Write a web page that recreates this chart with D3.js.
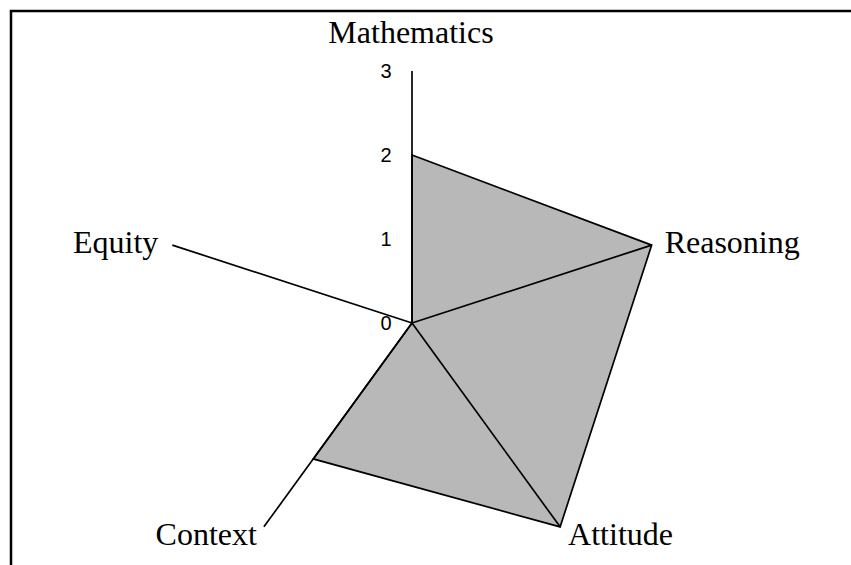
<!DOCTYPE html>
<html>
<head>
<meta charset="utf-8">
<script src="https://cdn.jsdelivr.net/npm/d3@7"></script>
<style>
    html, body { margin: 0; padding: 0; background: #fff; }
    #plot { display: block; }
</style>
</head>
<body>
<svg id="plot" width="851" height="565"></svg>
<script>
'use strict';

const axes = ['Mathematics', 'Reasoning', 'Attitude', 'Context', 'Equity'];
const scores = [2, 3, 3, 2, 0];
const ticks = [0, 1, 2, 3];

const width = 851;
const height = 565;
const cx = 412;
const cy = 323;
const maxRadius = 252;

const svg = d3.select('#plot');

const rScale = d3.scaleLinear()
    .domain([0, 3])
    .range([0, maxRadius]);

const angleScale = d3.scaleLinear()
    .domain([0, axes.length])
    .range([0, 2 * Math.PI]);

function point(index, value) {
    const a = angleScale(index);
    return [cx + rScale(value) * Math.sin(a), cy - rScale(value) * Math.cos(a)];
}

// frame, only top and left edges are visible in the picture
svg.append('path')
    .attr('d', `M11,${height} V11 H${width}`)
    .attr('fill', 'none')
    .attr('stroke', '#000')
    .attr('stroke-width', 2.5);

const chart = svg.append('g');

chart.append('path')
    .datum(scores)
    .attr('d', d3.line()(scores.map((v, i) => point(i, v))) + 'Z')
    .attr('fill', '#b8b8b8')
    .attr('stroke', '#000')
    .attr('stroke-width', 1.7);

chart.selectAll('.spoke')
    .data(axes)
    .enter()
    .append('line')
    .attr('class', 'spoke')
    .attr('x1', cx)
    .attr('y1', cy)
    .attr('x2', (_, i) => point(i, 3)[0])
    .attr('y2', (_, i) => point(i, 3)[1])
    .attr('stroke', '#000')
    .attr('stroke-width', 1.7);

chart.selectAll('.tick-label')
    .data(ticks)
    .enter()
    .append('text')
    .attr('class', 'tick-label')
    .attr('x', cx - 26)
    .attr('y', d => cy - rScale(d))
    .attr('dy', '0.36em')
    .attr('text-anchor', 'middle')
    .style('font-family', '"Liberation Sans", Arial, sans-serif')
    .style('font-size', '20px')
    .text(d => d);

/* label placement relative to each axis end */
const labelOffsets = [
    { dx: -1, dy: -28, anchor: 'middle' },
    { dx: 13, dy: 8, anchor: 'start' },
    { dx: 8, dy: 18, anchor: 'start' },
    { dx: -7, dy: 18, anchor: 'end' },
    { dx: -14, dy: 8, anchor: 'end' }
];

chart.selectAll('.axis-label')
    .data(axes)
    .enter()
    .append('text')
    .attr('class', 'axis-label')
    .attr('x', (_, i) => point(i, 3)[0] + labelOffsets[i].dx)
    .attr('y', (_, i) => point(i, 3)[1] + labelOffsets[i].dy)
    .attr('text-anchor', (_, i) => labelOffsets[i].anchor)
    .style('font-family', '"Liberation Serif", "Times New Roman", serif')
    .style('font-size', '32px')
    .text(d => d);
</script>
</body>
</html>
